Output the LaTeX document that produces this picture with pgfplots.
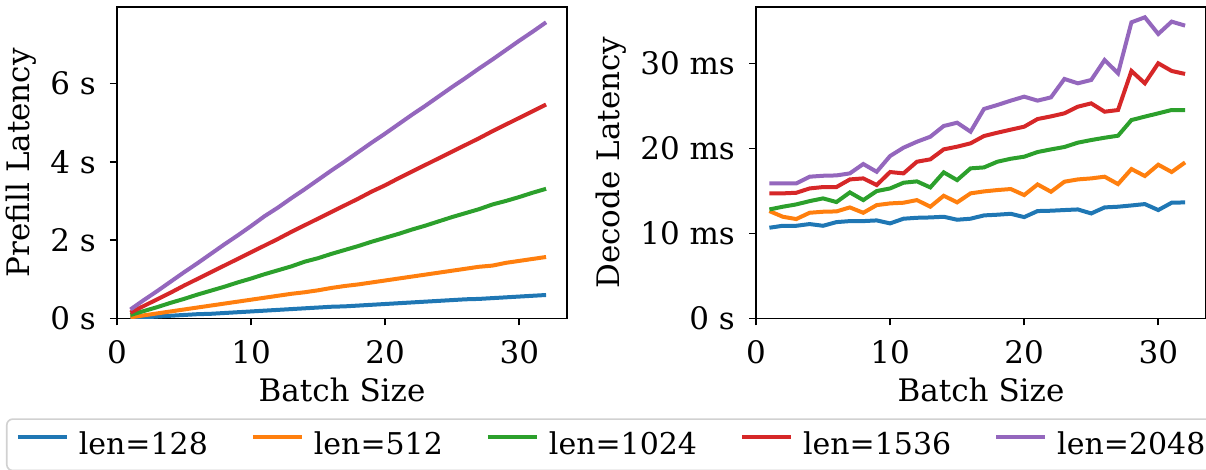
\documentclass[border=0pt]{standalone}
\usepackage{fontspec}
\setmainfont{DejaVu Serif}
\usepackage{pgfplots}
\pgfplotsset{compat=1.18}
\definecolor{c0}{HTML}{1F77B4}
\definecolor{c1}{HTML}{FF7F0E}
\definecolor{c2}{HTML}{2CA02C}
\definecolor{c3}{HTML}{D62728}
\definecolor{c4}{HTML}{9467BD}

\pgfplotsset{
  lat/.style={
    width=225pt, height=155.75pt, scale only axis,
    xmin=0, xmax=33.56, ymin=0,
    tick align=outside, tick pos=left, major tick length=3.5pt,
    axis line style={line width=0.8pt},
    major tick style={line width=0.8pt, black},
    font=\fontsize{15.5}{18}\selectfont,
    xtick={0,10,20,30},
    xticklabel shift=4pt, yticklabel shift=3.5pt,
    /pgf/number format/assume math mode=true,
    xlabel={Batch Size},
    every axis plot/.append style={line width=2pt, no markers},
  },
}

\begin{document}
\begin{tikzpicture}
\begin{axis}[lat, ymax=7.95,
  ytick={0,2,4,6}, yticklabels={0 s,2 s,4 s,6 s},
  ylabel={Prefill Latency},
  legend columns=5, legend cell align=left,
  legend style={at={(-0.2467,-0.3204)}, anchor=north west, draw=black!18,
    rounded corners=3pt, line width=0.8pt, font=\fontsize{15}{18}\selectfont,
    inner xsep=4.5pt, inner ysep=6.4pt,
    nodes={inner sep=0pt},
    /tikz/every odd column/.append style={column sep=5pt},
    /tikz/every even column/.append style={column sep=21.5pt}},
  legend image code/.code={\draw[line width=2pt] (0pt,0.38em) -- (24.5pt,0.38em);},
]
\addplot[c0] coordinates {(1,0.01) (2,0.03) (3,0.05) (4,0.07) (5,0.09) (6,0.11) (7,0.12) (8,0.14) (9,0.16) (10,0.18) (11,0.20) (12,0.22) (13,0.24) (14,0.26) (15,0.28) (16,0.30) (17,0.31) (18,0.33) (19,0.35) (20,0.37) (21,0.39) (22,0.41) (23,0.43) (24,0.45) (25,0.47) (26,0.49) (27,0.50) (28,0.52) (29,0.54) (30,0.56) (31,0.58) (32,0.60)};
\addlegendentry{len=128}
\addplot[c1] coordinates {(1,0.03) (2,0.08) (3,0.13) (4,0.18) (5,0.23) (6,0.28) (7,0.33) (8,0.38) (9,0.43) (10,0.48) (11,0.53) (12,0.58) (13,0.63) (14,0.67) (15,0.72) (16,0.78) (17,0.83) (18,0.87) (19,0.92) (20,0.97) (21,1.02) (22,1.07) (23,1.12) (24,1.17) (25,1.22) (26,1.27) (27,1.32) (28,1.35) (29,1.42) (30,1.47) (31,1.52) (32,1.57)};
\addlegendentry{len=512}
\addplot[c2] coordinates {(1,0.09) (2,0.19) (3,0.29) (4,0.40) (5,0.50) (6,0.61) (7,0.71) (8,0.81) (9,0.92) (10,1.02) (11,1.13) (12,1.23) (13,1.33) (14,1.45) (15,1.54) (16,1.65) (17,1.75) (18,1.85) (19,1.96) (20,2.06) (21,2.16) (22,2.27) (23,2.37) (24,2.48) (25,2.59) (26,2.69) (27,2.79) (28,2.91) (29,3.00) (30,3.10) (31,3.21) (32,3.31)};
\addlegendentry{len=1024}
\addplot[c3] coordinates {(1,0.15) (2,0.32) (3,0.49) (4,0.66) (5,0.84) (6,1.01) (7,1.18) (8,1.35) (9,1.52) (10,1.69) (11,1.86) (12,2.03) (13,2.21) (14,2.38) (15,2.55) (16,2.72) (17,2.89) (18,3.06) (19,3.24) (20,3.40) (21,3.58) (22,3.75) (23,3.92) (24,4.09) (25,4.26) (26,4.43) (27,4.60) (28,4.78) (29,4.95) (30,5.12) (31,5.29) (32,5.46)};
\addlegendentry{len=1536}
\addplot[c4] coordinates {(1,0.23) (2,0.47) (3,0.70) (4,0.94) (5,1.18) (6,1.41) (7,1.65) (8,1.89) (9,2.12) (10,2.36) (11,2.61) (12,2.83) (13,3.07) (14,3.30) (15,3.54) (16,3.78) (17,4.01) (18,4.25) (19,4.49) (20,4.72) (21,4.96) (22,5.20) (23,5.43) (24,5.67) (25,5.91) (26,6.14) (27,6.38) (28,6.61) (29,6.85) (30,7.09) (31,7.32) (32,7.56)};
\addlegendentry{len=2048}
\end{axis}

\begin{axis}[lat, at={(319.5pt,0pt)}, ymax=36.62,
  ytick={0,10,20,30}, yticklabels={0 s,10 ms,20 ms,30 ms},
  ylabel={Decode Latency},
]
\addplot[c0] coordinates {(1,10.67) (2,10.90) (3,10.90) (4,11.10) (5,10.90) (6,11.33) (7,11.45) (8,11.45) (9,11.53) (10,11.18) (11,11.73) (12,11.84) (13,11.88) (14,11.96) (15,11.61) (16,11.73) (17,12.12) (18,12.20) (19,12.31) (20,11.92) (21,12.63) (22,12.67) (23,12.75) (24,12.82) (25,12.35) (26,13.06) (27,13.14) (28,13.29) (29,13.45) (30,12.75) (31,13.61) (32,13.65)};
\addplot[c1] coordinates {(1,12.63) (2,11.96) (3,11.69) (4,12.43) (5,12.55) (6,12.59) (7,13.06) (8,12.43) (9,13.33) (10,13.53) (11,13.61) (12,13.92) (13,13.14) (14,14.43) (15,13.65) (16,14.71) (17,14.94) (18,15.10) (19,15.22) (20,14.51) (21,15.76) (22,14.90) (23,16.08) (24,16.35) (25,16.47) (26,16.67) (27,15.80) (28,17.57) (29,16.75) (30,18.08) (31,17.22) (32,18.35)};
\addplot[c2] coordinates {(1,12.82) (2,13.14) (3,13.41) (4,13.80) (5,14.12) (6,13.69) (7,14.82) (8,13.92) (9,14.98) (10,15.29) (11,15.96) (12,16.12) (13,15.41) (14,17.18) (15,16.27) (16,17.65) (17,17.76) (18,18.43) (19,18.78) (20,19.02) (21,19.57) (22,19.88) (23,20.16) (24,20.67) (25,20.98) (26,21.25) (27,21.49) (28,23.33) (29,23.73) (30,24.12) (31,24.51) (32,24.51)};
\addplot[c3] coordinates {(1,14.71) (2,14.71) (3,14.78) (4,15.29) (5,15.45) (6,15.45) (7,16.35) (8,16.47) (9,15.69) (10,17.22) (11,17.06) (12,18.43) (13,18.71) (14,19.88) (15,20.20) (16,20.59) (17,21.45) (18,21.84) (19,22.20) (20,22.55) (21,23.45) (22,23.76) (23,24.12) (24,24.90) (25,25.29) (26,24.31) (27,24.51) (28,29.10) (29,27.65) (30,30.00) (31,29.10) (32,28.75)};
\addplot[c4] coordinates {(1,15.88) (2,15.88) (3,15.88) (4,16.67) (5,16.78) (6,16.82) (7,17.06) (8,18.16) (9,17.25) (10,19.10) (11,20.08) (12,20.78) (13,21.37) (14,22.63) (15,23.02) (16,21.96) (17,24.63) (18,25.10) (19,25.61) (20,26.08) (21,25.61) (22,26.00) (23,28.16) (24,27.65) (25,28.04) (26,30.39) (27,28.82) (28,34.82) (29,35.41) (30,33.45) (31,34.90) (32,34.43)};
\end{axis}
\pgfresetboundingbox
\path[use as bounding box] (-58.5pt,-75.75pt) rectangle (544.5pt,159.25pt);
\end{tikzpicture}
\end{document}
